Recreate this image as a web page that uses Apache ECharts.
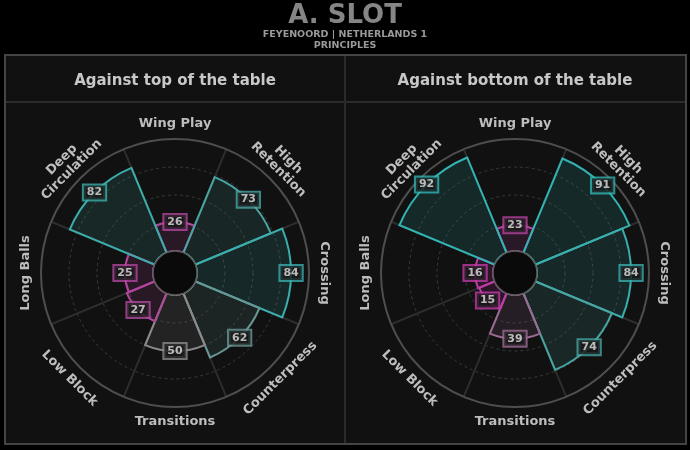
<!DOCTYPE html>
<html>
<head>
<meta charset="utf-8">
<script src="https://cdn.jsdelivr.net/npm/echarts@6/dist/echarts.min.js"></script>
<style>
html,body{margin:0;padding:0;background:#000;}
#chart{width:690px;height:450px;}
</style>
</head>
<body>
<div id="chart"></div>
<script>
const categories = ['Wing Play','High Retention','Crossing','Counterpress','Transitions','Low Block','Long Balls','Deep Circulation'];
const categoryLabels = ['Wing Play','High\nRetention','Crossing','Counterpress','Transitions','Low Block','Long Balls','Deep\nCirculation'];
const topValues = [26, 73, 84, 62, 50, 27, 25, 82];
const bottomValues = [23, 91, 84, 74, 39, 15, 16, 92];
const radialTicks = [0, 25, 50, 75, 100];
const panelTitles = ['Against top of the table', 'Against bottom of the table'];
const mainTitle = 'A. SLOT';
const subTitles = ['FEYENOORD | NETHERLANDS 1', 'PRINCIPLES'];

const FONT = '"DejaVu Sans", sans-serif';
const centers = [[175, 273], [515, 273]];
const R0 = 22, R1 = 134;

const colorStops = [
  [0, [212, 40, 178]],
  [25, [178, 68, 158]],
  [50, [138, 138, 138]],
  [75, [68, 166, 164]],
  [100, [40, 186, 186]]
];
function valueColor(v) {
  for (let i = 1; i < colorStops.length; i++) {
    if (v <= colorStops[i][0]) {
      const a = colorStops[i - 1], b = colorStops[i];
      const t = (v - a[0]) / (b[0] - a[0]);
      return a[1].map((c, k) => Math.round(c + (b[1][k] - c) * t));
    }
  }
  return colorStops[colorStops.length - 1][1];
}
const rgb = c => `rgb(${c[0]},${c[1]},${c[2]})`;
const rgba = (c, a) => `rgba(${c[0]},${c[1]},${c[2]},${a})`;

const chart = echarts.init(document.getElementById('chart'), null, {renderer: 'canvas'});

const datasets = [topValues, bottomValues];

const polar = centers.map(c => ({center: c, radius: [R0, R1]}));
const angleAxis = centers.map((c, i) => ({
  polarIndex: i,
  type: 'category',
  data: categories,
  startAngle: 112.5,
  boundaryGap: true,
  axisLine: {show: true, lineStyle: {color: '#4e4e4e', width: 2}},
  axisTick: {show: false},
  axisLabel: {show: false},
  splitLine: {show: true, lineStyle: {color: '#2d2d2d', width: 2}},
  splitArea: {show: false},
  z: 1
}));
const radiusAxis = centers.map((c, i) => ({
  polarIndex: i,
  type: 'value',
  min: radialTicks[0],
  max: radialTicks[radialTicks.length - 1],
  interval: radialTicks[1] - radialTicks[0],
  axisLine: {show: false},
  axisTick: {show: false},
  axisLabel: {show: false},
  splitLine: {show: true, lineStyle: {color: '#3a3a3a', width: 1, type: [3, 3]}},
  z: 1
}));

const series = [];
datasets.forEach((vals, pi) => {
  series.push({
    type: 'bar',
    coordinateSystem: 'polar',
    polarIndex: pi,
    barCategoryGap: '0%',
    silent: true,
    z: 2,
    data: vals.map(v => {
      const c = valueColor(v);
      return {value: v, itemStyle: {color: rgba(c, 0.15), borderColor: rgb(c), borderWidth: 2}};
    })
  });
  series.push({
    type: 'scatter',
    coordinateSystem: 'polar',
    polarIndex: pi,
    silent: true,
    z: 4,
    symbol: 'circle',
    symbolSize: 1,
    itemStyle: {color: 'rgba(0,0,0,0)'},
    data: vals.map((v, i) => {
      const c = valueColor(v);
      return {
        value: [v, i],
        label: {
          show: true,
          position: 'inside',
          formatter: String(v),
          color: '#e2e2e2',
          fontFamily: FONT,
          fontWeight: 'bold',
          fontSize: 11,
          backgroundColor: '#1a1a1a',
          borderColor: rgb(c),
          borderWidth: 2,
          padding: [2, 3, 1, 3]
        }
      };
    })
  });
  series.push({
    type: 'custom',
    coordinateSystem: 'polar',
    polarIndex: pi,
    silent: true,
    z: 4,
    data: categories.map((name, i) => [100, i]),
    renderItem: function (params, api) {
      const cs = params.coordSys;
      const p = api.coord([api.value(0), api.value(1)]);
      let deg = Math.round(Math.atan2(cs.cy - p[1], p[0] - cs.cx) * 180 / Math.PI);
      if (deg === -180) deg = 180;
      const rot = (deg >= 0 && deg <= 180) ? deg - 90 : deg + 90;
      const text = categoryLabels[params.dataIndex];
      const multi = text.indexOf('\n') >= 0;
      const rr = cs.r + (multi ? 19 : 15);
      const a = deg * Math.PI / 180;
      return {
        type: 'text',
        x: cs.cx + rr * Math.cos(a),
        y: cs.cy - rr * Math.sin(a),
        rotation: rot * Math.PI / 180,
        style: {
          text: text,
          fill: '#bdbdbd',
          font: 'bold 13px ' + FONT,
          align: 'center',
          verticalAlign: 'middle',
          lineHeight: 14
        }
      };
    }
  });
});

const graphic = [
  {type: 'rect', z: -100, shape: {x: 5, y: 55, width: 681, height: 389}, style: {fill: '#111111', stroke: '#444444', lineWidth: 2}},
  {type: 'line', z: -99, shape: {x1: 6, y1: 102, x2: 685, y2: 102}, style: {stroke: '#2b2b2b', lineWidth: 2}},
  {type: 'line', z: -99, shape: {x1: 345, y1: 56, x2: 345, y2: 443}, style: {stroke: '#2b2b2b', lineWidth: 2}},
  {type: 'text', x: 345, y: 16, style: {text: mainTitle, fill: '#858585', font: 'bold 26px ' + FONT, align: 'center', verticalAlign: 'middle'}},
  {type: 'text', x: 345, y: 34.5, style: {text: subTitles[0], fill: '#9a9a9a', font: 'bold 9.5px ' + FONT, align: 'center', verticalAlign: 'middle'}},
  {type: 'text', x: 345, y: 46, style: {text: subTitles[1], fill: '#9a9a9a', font: 'bold 9.5px ' + FONT, align: 'center', verticalAlign: 'middle'}}
];
centers.forEach((c, i) => {
  graphic.push({type: 'text', x: c[0], y: 81, style: {text: panelTitles[i], fill: '#c8c8c8', font: 'bold 15px ' + FONT, align: 'center', verticalAlign: 'middle'}});
  graphic.push({type: 'circle', z: 100, shape: {cx: c[0], cy: c[1], r: R0}, style: {fill: '#0a0a0a', stroke: '#5a5a5a', lineWidth: 1.5}});
});

chart.setOption({
  backgroundColor: '#000000',
  animation: false,
  polar: polar,
  angleAxis: angleAxis,
  radiusAxis: radiusAxis,
  series: series,
  graphic: graphic
});
</script>
</body>
</html>
